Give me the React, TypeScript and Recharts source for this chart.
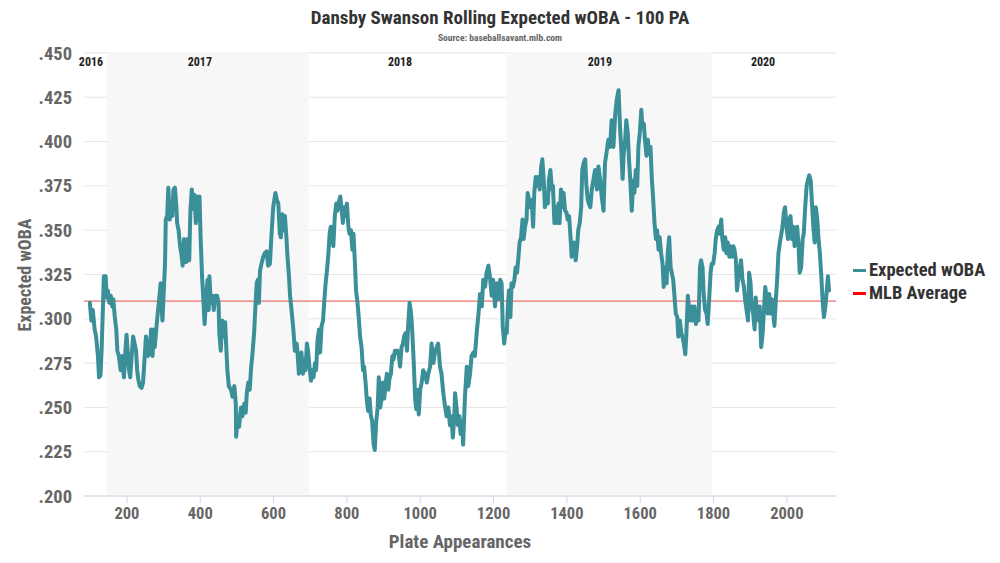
import React from 'react';
import { LineChart, Line, XAxis, YAxis, CartesianGrid, ReferenceArea, ReferenceLine } from 'recharts';

const paValues = [
  99, 103, 107, 112, 116, 121, 124, 128, 131, 135, 137, 142, 145, 148, 152, 156, 160, 163, 167, 171, 174, 178, 183, 187, 192, 196, 199,
  203, 206, 209, 213, 217, 221, 225, 228, 231, 235, 240, 244, 248, 252, 255, 258, 262, 266, 270, 273, 276, 281, 284, 288, 292, 295, 297,
  300, 304, 306, 310, 313, 317, 321, 324, 327, 331, 335, 337, 341, 345, 349, 352, 356, 359, 362, 366, 370, 373, 377, 381, 384, 388, 390,
  394, 398, 401, 405, 409, 412, 416, 420, 423, 425, 429, 433, 437, 441, 446, 450, 452, 456, 460, 464, 468, 471, 474, 478, 484, 488, 493,
  497, 498, 502, 506, 511, 515, 520, 524, 527, 531, 535, 539, 542, 547, 550, 554, 557, 560, 563, 567, 572, 576, 581, 585, 590, 594, 599,
  605, 609, 613, 617, 620, 624, 627, 631, 635, 638, 642, 645, 649, 654, 658, 663, 665, 669, 673, 676, 680, 684, 687, 691, 694, 698, 702,
  705, 709, 713, 716, 720, 724, 727, 731, 735, 738, 742, 745, 749, 753, 756, 760, 763, 767, 771, 774, 778, 782, 785, 789, 793, 796, 800,
  804, 807, 811, 815, 818, 822, 825, 829, 833, 836, 840, 844, 847, 851, 854, 858, 862, 865, 869, 873, 876, 880, 884, 887, 891, 895, 898,
  902, 905, 909, 913, 916, 920, 924, 927, 931, 935, 938, 942, 945, 949, 953, 956, 960, 964, 967, 971, 975, 978, 982, 986, 989, 993, 996,
  1000, 1004, 1008, 1013, 1018, 1022, 1027, 1031, 1036, 1040, 1045, 1049, 1054, 1058, 1063, 1068, 1072, 1077, 1081, 1085, 1089, 1093, 1095,
  1099, 1103, 1107, 1110, 1114, 1117, 1120, 1122, 1127, 1131, 1136, 1140, 1145, 1149, 1154, 1159, 1163, 1168, 1172, 1177, 1181, 1186, 1190,
  1195, 1199, 1204, 1209, 1213, 1218, 1222, 1225, 1229, 1232, 1236, 1239, 1242, 1246, 1249, 1253, 1257, 1260, 1264, 1268, 1271, 1275, 1279,
  1282, 1286, 1290, 1293, 1297, 1300, 1304, 1308, 1311, 1315, 1319, 1322, 1326, 1330, 1333, 1337, 1340, 1344, 1348, 1351, 1355, 1359, 1362,
  1366, 1370, 1373, 1377, 1380, 1384, 1388, 1391, 1395, 1399, 1402, 1406, 1410, 1413, 1417, 1420, 1424, 1428, 1431, 1435, 1439, 1442, 1446,
  1450, 1453, 1457, 1460, 1464, 1468, 1472, 1477, 1482, 1486, 1491, 1495, 1500, 1504, 1509, 1513, 1518, 1522, 1527, 1532, 1536, 1541, 1545,
  1548, 1552, 1555, 1559, 1562, 1566, 1570, 1573, 1577, 1581, 1584, 1588, 1592, 1595, 1599, 1603, 1606, 1610, 1613, 1617, 1621, 1624, 1628,
  1632, 1635, 1639, 1643, 1646, 1650, 1653, 1657, 1661, 1664, 1668, 1672, 1675, 1679, 1683, 1686, 1690, 1693, 1697, 1701, 1704, 1708, 1712,
  1715, 1719, 1723, 1726, 1730, 1734, 1737, 1741, 1744, 1748, 1752, 1755, 1759, 1763, 1766, 1770, 1773, 1777, 1781, 1784, 1788, 1792, 1795,
  1799, 1803, 1806, 1810, 1814, 1817, 1821, 1824, 1828, 1832, 1835, 1839, 1843, 1846, 1850, 1854, 1857, 1861, 1864, 1868, 1872, 1875, 1879,
  1883, 1886, 1890, 1894, 1897, 1901, 1904, 1908, 1912, 1915, 1919, 1923, 1926, 1930, 1934, 1937, 1941, 1944, 1948, 1952, 1955, 1959, 1963,
  1966, 1970, 1974, 1977, 1981, 1985, 1988, 1992, 1995, 1999, 2003, 2006, 2010, 2014, 2017, 2021, 2024, 2028, 2032, 2035, 2039, 2043, 2046,
  2050, 2054, 2057, 2061, 2065, 2068, 2072, 2076, 2079, 2083, 2086, 2090, 2094, 2097, 2101, 2105, 2108, 2112, 2115,
];

const xwobaValues = [
  0.309, 0.299, 0.305, 0.294, 0.290, 0.279, 0.267, 0.268, 0.282, 0.309, 0.324, 0.324, 0.312, 0.316, 0.309, 0.313, 0.307, 0.311, 0.301, 0.294, 0.282, 0.279, 0.271, 0.279, 0.267, 0.282, 0.291,
  0.279, 0.271, 0.267, 0.279, 0.290, 0.286, 0.282, 0.271, 0.266, 0.262, 0.261, 0.264, 0.277, 0.290, 0.286, 0.279, 0.282, 0.294, 0.279, 0.294, 0.284, 0.296, 0.303, 0.311, 0.320, 0.305, 0.299,
  0.313, 0.331, 0.356, 0.358, 0.374, 0.356, 0.365, 0.358, 0.373, 0.374, 0.363, 0.354, 0.350, 0.341, 0.336, 0.330, 0.345, 0.341, 0.332, 0.345, 0.333, 0.360, 0.373, 0.362, 0.370, 0.354, 0.369,
  0.356, 0.369, 0.346, 0.324, 0.309, 0.297, 0.313, 0.322, 0.305, 0.324, 0.309, 0.313, 0.305, 0.313, 0.313, 0.309, 0.292, 0.282, 0.299, 0.290, 0.298, 0.284, 0.271, 0.262, 0.260, 0.256, 0.262,
  0.252, 0.2335, 0.245, 0.239, 0.250, 0.245, 0.252, 0.247, 0.258, 0.264, 0.260, 0.273, 0.279, 0.292, 0.305, 0.320, 0.322, 0.309, 0.327, 0.331, 0.335, 0.337, 0.338, 0.330, 0.331, 0.346, 0.363,
  0.371, 0.367, 0.365, 0.348, 0.346, 0.359, 0.350, 0.358, 0.346, 0.335, 0.324, 0.313, 0.305, 0.294, 0.282, 0.286, 0.282, 0.269, 0.275, 0.281, 0.269, 0.277, 0.271, 0.286, 0.282, 0.273, 0.265,
  0.271, 0.267, 0.275, 0.271, 0.288, 0.294, 0.281, 0.296, 0.299, 0.309, 0.320, 0.326, 0.335, 0.348, 0.352, 0.348, 0.341, 0.358, 0.365, 0.361, 0.366, 0.369, 0.363, 0.354, 0.363, 0.358, 0.365,
  0.352, 0.348, 0.350, 0.339, 0.348, 0.331, 0.316, 0.309, 0.299, 0.290, 0.284, 0.271, 0.273, 0.264, 0.255, 0.248, 0.255, 0.246, 0.242, 0.229, 0.226, 0.242, 0.250, 0.267, 0.250, 0.255, 0.264,
  0.255, 0.262, 0.269, 0.260, 0.266, 0.269, 0.279, 0.277, 0.282, 0.282, 0.282, 0.279, 0.273, 0.284, 0.286, 0.290, 0.292, 0.282, 0.296, 0.309, 0.303, 0.294, 0.277, 0.256, 0.249, 0.260, 0.246,
  0.260, 0.264, 0.271, 0.269, 0.264, 0.269, 0.273, 0.286, 0.275, 0.281, 0.284, 0.286, 0.273, 0.269, 0.258, 0.250, 0.245, 0.250, 0.240, 0.245, 0.233, 0.245, 0.258,
  0.250, 0.240, 0.245, 0.235, 0.242, 0.229, 0.245, 0.256, 0.273, 0.262, 0.269, 0.279, 0.281, 0.279, 0.292, 0.303, 0.314, 0.307, 0.322, 0.318, 0.326, 0.330, 0.324,
  0.313, 0.322, 0.307, 0.320, 0.311, 0.322, 0.320, 0.296, 0.286, 0.292, 0.292, 0.307, 0.316, 0.301, 0.320, 0.318, 0.322, 0.329, 0.326, 0.335, 0.343, 0.346, 0.356,
  0.345, 0.352, 0.356, 0.371, 0.367, 0.363, 0.367, 0.352, 0.371, 0.380, 0.375, 0.380, 0.373, 0.386, 0.390, 0.378, 0.363, 0.371, 0.365, 0.378, 0.384, 0.373, 0.375,
  0.354, 0.363, 0.354, 0.365, 0.354, 0.373, 0.363, 0.371, 0.361, 0.360, 0.356, 0.358, 0.346, 0.335, 0.341, 0.343, 0.333, 0.341, 0.350, 0.354, 0.363, 0.384, 0.388,
  0.390, 0.376, 0.367, 0.365, 0.363, 0.373, 0.378, 0.384, 0.373, 0.386, 0.378, 0.369, 0.361, 0.388, 0.395, 0.401, 0.397, 0.412, 0.397, 0.416, 0.4235, 0.429, 0.408,
  0.397, 0.379, 0.393, 0.401, 0.412, 0.405, 0.388, 0.378, 0.361, 0.378, 0.371, 0.384, 0.375, 0.397, 0.405, 0.418, 0.408, 0.410, 0.401, 0.392, 0.401, 0.393, 0.397,
  0.378, 0.369, 0.354, 0.345, 0.350, 0.339, 0.346, 0.337, 0.331, 0.318, 0.329, 0.320, 0.337, 0.346, 0.329, 0.326, 0.322, 0.314, 0.303, 0.301, 0.290, 0.299, 0.292,
  0.290, 0.286, 0.280, 0.292, 0.313, 0.303, 0.299, 0.307, 0.299, 0.307, 0.297, 0.303, 0.299, 0.329, 0.333, 0.329, 0.314, 0.305, 0.303, 0.297, 0.311, 0.326, 0.331,
  0.331, 0.337, 0.345, 0.350, 0.352, 0.348, 0.356, 0.345, 0.339, 0.346, 0.337, 0.343, 0.335, 0.341, 0.335, 0.341, 0.339, 0.333, 0.316, 0.324, 0.329, 0.333, 0.322,
  0.318, 0.311, 0.305, 0.299, 0.326, 0.320, 0.307, 0.303, 0.294, 0.312, 0.301, 0.299, 0.307, 0.284, 0.292, 0.303, 0.318, 0.313, 0.303, 0.314, 0.303, 0.311, 0.303,
  0.296, 0.311, 0.324, 0.337, 0.343, 0.348, 0.352, 0.360, 0.363, 0.352, 0.345, 0.356, 0.358, 0.345, 0.352, 0.341, 0.348, 0.352, 0.341, 0.326, 0.329, 0.345, 0.348,
  0.363, 0.375, 0.378, 0.381, 0.378, 0.367, 0.352, 0.343, 0.363, 0.356, 0.346, 0.337, 0.324, 0.312, 0.301, 0.307, 0.314, 0.324, 0.316,
];

const MLB_AVERAGE = 0.31;
const xTicks = [200, 400, 600, 800, 1000, 1200, 1400, 1600, 1800, 2000];
const yTicks = [0.2, 0.225, 0.25, 0.275, 0.3, 0.325, 0.35, 0.375, 0.4, 0.425, 0.45];
const shadedSeasons = [
  { start: 146, end: 696 },
  { start: 1234, end: 1795 },
];
const seasonLabels = ['2016', '2017', '2018', '2019', '2020'];
const seasonLabelPA = [102, 399, 945, 1490, 1935];

const data = paValues.map((pa, i) => ({ pa, xwoba: xwobaValues[i] }));

const FONT = '"Roboto Condensed", "Liberation Sans Narrow", "DejaVu Sans Condensed", Roboto, sans-serif';
const TEAL = '#3a8f99';

const fmt = (v: number) => v.toFixed(3).replace(/^0/, '');

export default function App() {
  return (
    <div style={{ position: 'relative', width: 984, height: 547, fontFamily: FONT }}>
      <div style={{ position: 'absolute', left: 0, top: 0, width: 984, textAlign: 'center', fontSize: 19, lineHeight: '20px', fontWeight: 700, color: '#333' }}>
        Dansby Swanson Rolling Expected wOBA - 100 PA
      </div>
      <div style={{ position: 'absolute', left: 0, top: 25, width: 984, textAlign: 'center', fontSize: 9.5, lineHeight: '10px', fontWeight: 700, color: '#666' }}>
        Source: baseballsavant.mlb.com
      </div>
      <LineChart width={984} height={547} data={data} margin={{ top: 45, right: 156, bottom: 29, left: 16 }}>
        {shadedSeasons.map((s, i) => (
          <ReferenceArea key={i} x1={s.start} x2={s.end} y1={0.2} y2={0.45} fill="#f7f7f7" fillOpacity={1} stroke="none" ifOverflow="hidden" />
        ))}
        <CartesianGrid vertical={false} stroke="#e6e6e6" strokeWidth={1} />
        <XAxis
          dataKey="pa"
          type="number"
          domain={[83, 2134]}
          ticks={xTicks}
          allowDataOverflow
          height={30}
          stroke="#ccd6eb"
          tickSize={7}
          tickMargin={4}
          tick={{ fill: '#666', fontSize: 16.5, fontWeight: 700, fontFamily: FONT }}
        />
        <YAxis
          type="number"
          domain={[0.2, 0.45]}
          ticks={yTicks}
          width={60}
          axisLine={false}
          tickLine={false}
          tickSize={0}
          tickMargin={12}
          tickFormatter={fmt}
          tick={{ fill: '#666', fontSize: 18.5, fontWeight: 700, fontFamily: FONT }}
        />
        {seasonLabels.map((lab, i) => (
          <ReferenceLine
            key={lab}
            x={seasonLabelPA[i]}
            stroke="none"
            label={{ value: lab, position: 'insideTop', offset: 4, fill: '#222', fontSize: 12, fontWeight: 700, fontFamily: FONT }}
          />
        ))}
        <ReferenceLine y={MLB_AVERAGE} stroke="#e84a4a" strokeWidth={1} />
        <Line
          dataKey="xwoba"
          type="linear"
          stroke={TEAL}
          strokeWidth={4}
          dot={false}
          activeDot={false}
          isAnimationActive={false}
          strokeLinejoin="round"
          strokeLinecap="round"
        />
      </LineChart>
      <div style={{ position: 'absolute', left: 16, top: 267, transform: 'translate(-50%, -50%) rotate(-90deg)', whiteSpace: 'nowrap', fontSize: 18, fontWeight: 700, color: '#666' }}>
        Expected wOBA
      </div>
      <div style={{ position: 'absolute', left: 452, top: 533, transform: 'translate(-50%, -50%)', whiteSpace: 'nowrap', fontSize: 19, fontWeight: 700, color: '#666' }}>
        Plate Appearances
      </div>
      <div style={{ position: 'absolute', left: 845, top: 251, fontSize: 18.5, fontWeight: 700, color: '#333', lineHeight: '23px' }}>
        <div style={{ display: 'flex', alignItems: 'center' }}>
          <span style={{ display: 'inline-block', width: 13, height: 3, background: TEAL, marginRight: 3 }} />
          <span>Expected wOBA</span>
        </div>
        <div style={{ display: 'flex', alignItems: 'center' }}>
          <span style={{ display: 'inline-block', width: 13, height: 3, background: '#f00', marginRight: 3 }} />
          <span>MLB Average</span>
        </div>
      </div>
    </div>
  );
}
